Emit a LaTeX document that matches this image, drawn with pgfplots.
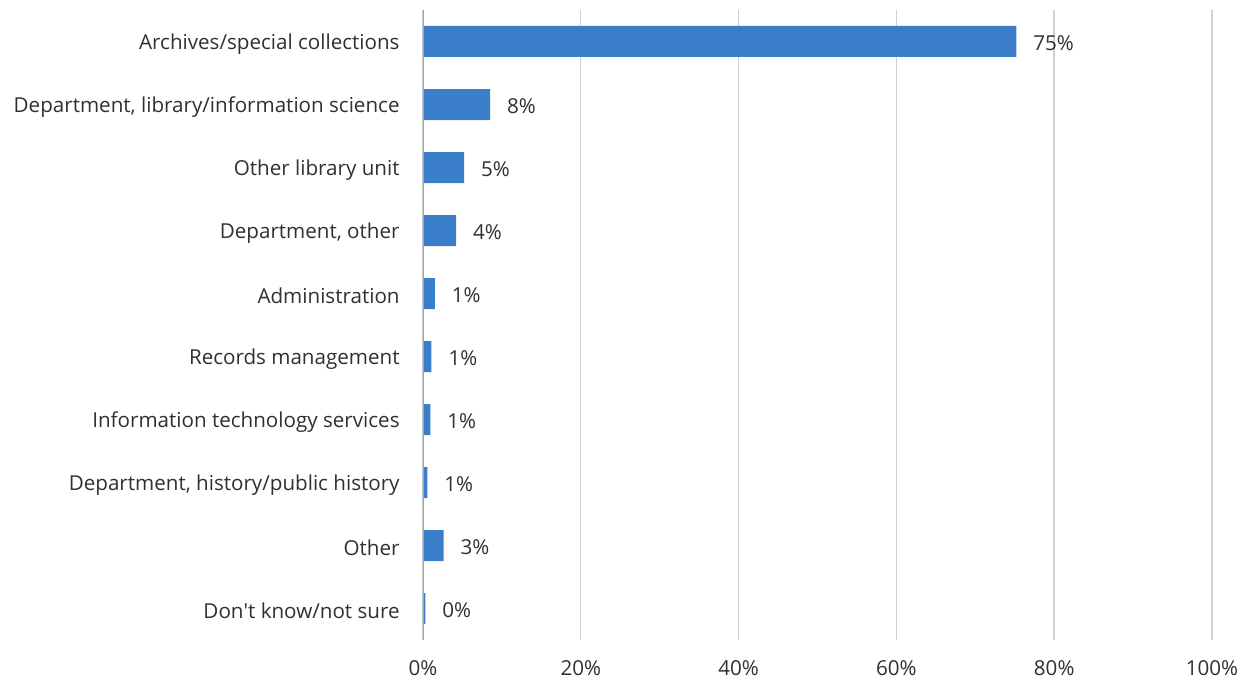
\documentclass[border=0pt]{standalone}
\usepackage{fontspec}
\setmainfont{Open Sans}
\usepackage{pgfplots}
\pgfplotsset{compat=1.18}
\definecolor{barblue}{HTML}{3A7DC9}
\definecolor{gridgray}{HTML}{D0D0D0}
\definecolor{axisgray}{HTML}{A6A6A6}
\definecolor{txt}{HTML}{303030}

\begin{document}
\begin{tikzpicture}
\useasboundingbox (-211.5pt,-20.5pt) rectangle (413.5pt,320pt);
\begin{axis}[
    scale only axis,
    width=394.5pt, height=315pt,
    xbar,
    xmin=0, xmax=100,
    ymin=-0.5, ymax=9.5,
    y dir=reverse,
    bar width=15.5pt,
    ytick={0,...,9},
    yticklabels={Archives/special collections,
        {Department, library/information science},
        Other library unit,
        {Department, other},
        Administration,
        Records management,
        Information technology services,
        {Department, history/public history},
        Other,
        Don\textquotesingle t know/not sure},
    xtick={0,20,...,100},
    xticklabel={\pgfmathprintnumber{\tick}\%},
    xmajorgrids,
    grid style={draw=gridgray, line width=0.7pt},
    axis line style={draw=none},
    major tick length=0pt,
    tick style={draw=none},
    tick label style={font=\fontsize{10.3pt}{12pt}\selectfont, text=txt},
    yticklabel style={anchor=east, inner sep=0pt, xshift=-11.5pt, yshift=-1.2pt},
    xticklabel style={anchor=north, inner sep=0pt, yshift=-10pt},
    /pgf/number format/assume math mode=true,
    point meta=explicit symbolic,
    nodes near coords,
    nodes near coords style={anchor=west, xshift=5pt, yshift=-1pt, font=\fontsize{10.3pt}{12pt}\selectfont, text=txt},
]
\addplot[fill=barblue, draw=none] coordinates {
    (75.2,0) [75\%]
    (8.5,1) [8\%]
    (5.2,2) [5\%]
    (4.2,3) [4\%]
    (1.5,4) [1\%]
    (1.07,5) [1\%]
    (0.93,6) [1\%]
    (0.55,7) [1\%]
    (2.6,8) [3\%]
    (0.3,9) [0\%]
};
\draw[axisgray, line width=0.9pt] (axis cs:0,-0.5) -- (axis cs:0,9.5);
\end{axis}
\end{tikzpicture}
\end{document}
